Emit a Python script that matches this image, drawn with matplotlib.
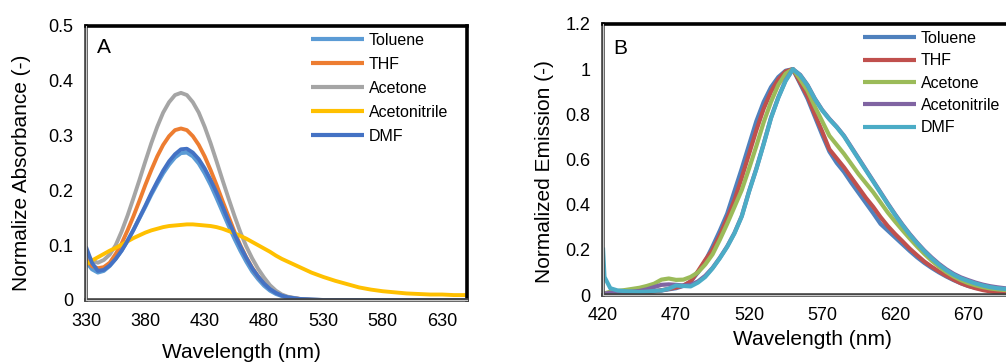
import matplotlib
matplotlib.use('Agg')
import matplotlib.pyplot as plt
from matplotlib.ticker import FormatStrFormatter

plt.rcParams['font.family'] = ['Liberation Sans', 'DejaVu Sans']

solvents = ['Toluene', 'THF', 'Acetone', 'Acetonitrile', 'DMF']

# ---- panel A : absorbance ----
wl_abs = [330, 335, 340, 345, 350, 355, 360, 365, 370, 375, 380, 385, 390, 395,
          400, 405, 410, 415, 420, 425, 430, 435, 440, 445, 450, 455, 460, 465,
          470, 475, 480, 485, 490, 495, 500, 510, 520, 530, 540, 550, 560, 570,
          580, 590, 600, 610, 620, 630, 640, 650]
abs_toluene = [0.070, 0.056, 0.050, 0.053, 0.062, 0.075, 0.090, 0.108, 0.128, 0.149,
               0.170, 0.192, 0.212, 0.231, 0.247, 0.260, 0.268, 0.269, 0.262, 0.249,
               0.231, 0.210, 0.186, 0.161, 0.136, 0.112, 0.090, 0.070, 0.052, 0.038,
               0.026, 0.017, 0.011, 0.007, 0.004, 0.001, 0, 0, 0, 0,
               0, 0, 0, 0, 0, 0, 0, 0, 0, 0]
abs_thf = [0.075, 0.062, 0.058, 0.060, 0.068, 0.084, 0.103, 0.127, 0.153, 0.181,
           0.210, 0.237, 0.262, 0.283, 0.299, 0.310, 0.313, 0.310, 0.299, 0.283,
           0.262, 0.237, 0.210, 0.181, 0.153, 0.125, 0.100, 0.078, 0.059, 0.043,
           0.031, 0.021, 0.014, 0.009, 0.005, 0.002, 0, 0, 0, 0,
           0, 0, 0, 0, 0, 0, 0, 0, 0, 0]
abs_acetone = [0.085, 0.072, 0.068, 0.073, 0.083, 0.100, 0.125, 0.154, 0.186, 0.219,
               0.253, 0.286, 0.316, 0.342, 0.361, 0.374, 0.378, 0.374, 0.361, 0.342,
               0.316, 0.286, 0.253, 0.219, 0.186, 0.154, 0.124, 0.098, 0.076, 0.057,
               0.041, 0.027, 0.017, 0.010, 0.006, 0.002, 0.001, 0, 0, 0,
               0, 0, 0, 0, 0, 0, 0, 0, 0, 0]
abs_acetonitrile = [0.065, 0.072, 0.078, 0.084, 0.090, 0.095, 0.101, 0.107, 0.113, 0.118,
                    0.123, 0.127, 0.130, 0.133, 0.135, 0.136, 0.137, 0.138, 0.138, 0.137,
                    0.136, 0.135, 0.133, 0.130, 0.126, 0.122, 0.117, 0.112, 0.106, 0.100,
                    0.094, 0.088, 0.081, 0.075, 0.070, 0.060, 0.050, 0.042, 0.035, 0.029,
                    0.023, 0.019, 0.016, 0.014, 0.012, 0.011, 0.010, 0.010, 0.009, 0.009]
abs_dmf = [0.097, 0.068, 0.053, 0.055, 0.063, 0.075, 0.090, 0.108, 0.128, 0.150,
           0.172, 0.195, 0.216, 0.236, 0.253, 0.266, 0.275, 0.276, 0.269, 0.257,
           0.240, 0.219, 0.196, 0.171, 0.145, 0.121, 0.098, 0.077, 0.058, 0.043,
           0.030, 0.020, 0.013, 0.008, 0.005, 0.002, 0.001, 0, 0, 0,
           0, 0, 0, 0, 0, 0, 0, 0, 0, 0]

# ---- panel B : emission ----
wl_em = [420, 421, 425, 430, 435, 440, 445, 450, 455, 460, 465, 470, 475, 480, 485,
         490, 495, 500, 505, 510, 515, 520, 525, 530, 535, 540, 545, 550, 555, 560,
         565, 570, 575, 580, 585, 590, 595, 600, 605, 610, 615, 620, 625, 630, 635,
         640, 645, 650, 655, 660, 665, 670, 675, 680, 685, 690, 695, 700]
em_toluene = [0.005, 0.006, 0.008, 0.010, 0.010, 0.011, 0.012, 0.014, 0.017, 0.020,
              0.025, 0.030, 0.040, 0.060, 0.100, 0.150, 0.215, 0.285, 0.360, 0.460,
              0.560, 0.665, 0.770, 0.855, 0.920, 0.965, 0.993, 1.000, 0.935, 0.870,
              0.790, 0.710, 0.635, 0.585, 0.545, 0.497, 0.452, 0.407, 0.362, 0.315,
              0.285, 0.255, 0.225, 0.195, 0.167, 0.142, 0.120, 0.100, 0.082, 0.066,
              0.052, 0.040, 0.032, 0.026, 0.021, 0.017, 0.014, 0.012]
em_thf = [0.002, 0.003, 0.004, 0.005, 0.006, 0.007, 0.009, 0.012, 0.016, 0.021,
          0.027, 0.033, 0.042, 0.060, 0.105, 0.155, 0.200, 0.265, 0.340, 0.420,
          0.520, 0.625, 0.730, 0.825, 0.900, 0.955, 0.990, 1.000, 0.940, 0.880,
          0.800, 0.725, 0.645, 0.605, 0.565, 0.520, 0.475, 0.430, 0.390, 0.345,
          0.305, 0.270, 0.238, 0.205, 0.176, 0.148, 0.125, 0.104, 0.085, 0.068,
          0.052, 0.040, 0.030, 0.022, 0.016, 0.011, 0.008, 0.006]
em_acetone = [0.005, 0.007, 0.015, 0.018, 0.022, 0.027, 0.032, 0.040, 0.050, 0.068,
              0.073, 0.067, 0.068, 0.080, 0.100, 0.135, 0.180, 0.245, 0.315, 0.390,
              0.465, 0.560, 0.660, 0.765, 0.855, 0.930, 0.980, 1.000, 0.955, 0.905,
              0.835, 0.770, 0.705, 0.665, 0.625, 0.580, 0.535, 0.495, 0.455, 0.410,
              0.365, 0.325, 0.287, 0.250, 0.215, 0.182, 0.152, 0.125, 0.102, 0.082,
              0.066, 0.053, 0.043, 0.035, 0.029, 0.025, 0.022, 0.020]
em_acetonitrile = [0.005, 0.006, 0.010, 0.012, 0.013, 0.015, 0.018, 0.025, 0.035, 0.045,
                   0.047, 0.045, 0.042, 0.045, 0.060, 0.085, 0.120, 0.165, 0.215, 0.275,
                   0.350, 0.460, 0.560, 0.670, 0.785, 0.875, 0.950, 1.000, 0.975, 0.930,
                   0.870, 0.820, 0.780, 0.745, 0.705, 0.655, 0.605, 0.555, 0.505, 0.455,
                   0.405, 0.357, 0.312, 0.270, 0.232, 0.197, 0.166, 0.138, 0.114, 0.094,
                   0.078, 0.066, 0.055, 0.046, 0.039, 0.034, 0.030, 0.027]
em_dmf = [0.210, 0.080, 0.030, 0.020, 0.017, 0.015, 0.013, 0.015, 0.018, 0.020,
          0.028, 0.042, 0.040, 0.038, 0.055, 0.080, 0.118, 0.163, 0.213, 0.273,
          0.348, 0.458, 0.558, 0.668, 0.783, 0.873, 0.948, 1.000, 0.973, 0.928,
          0.868, 0.818, 0.778, 0.743, 0.703, 0.652, 0.602, 0.552, 0.502, 0.452,
          0.402, 0.354, 0.309, 0.267, 0.229, 0.194, 0.162, 0.134, 0.110, 0.090,
          0.074, 0.062, 0.051, 0.042, 0.035, 0.030, 0.027, 0.024]

abs_data = [abs_toluene, abs_thf, abs_acetone, abs_acetonitrile, abs_dmf]
em_data = [em_toluene, em_thf, em_acetone, em_acetonitrile, em_dmf]
colors_a = ['#5B9BD5', '#ED7D31', '#A5A5A5', '#FFC000', '#4472C4']
colors_b = ['#4F81BD', '#C0504D', '#9BBB59', '#8064A2', '#4BACC6']

W, H = 1006, 363
fig = plt.figure(figsize=(W / 100, H / 100), dpi=100)


def px_axes(l, r, t, b):
    return fig.add_axes([l / W, 1 - b / H, (r - l) / W, (b - t) / H])


def style(ax):
    for s in ['top', 'right']:
        ax.spines[s].set_color('black')
        ax.spines[s].set_linewidth(2.6)
    for s in ['left', 'bottom']:
        ax.spines[s].set_color('#404040')
        ax.spines[s].set_linewidth(2.6)
    # inner light line -> double-line look of the excel axes
    ax.plot([0, 0], [0, 1], transform=ax.transAxes, color='#c8c8c8', lw=0.8,
            clip_on=False, zorder=5)
    ax.plot([0, 1], [0, 0], transform=ax.transAxes, color='#c8c8c8', lw=0.8,
            clip_on=False, zorder=5)
    ax.tick_params(length=0, labelsize=13, pad=9)
    ax.yaxis.set_major_formatter(FormatStrFormatter('%g'))


# panel A
ax1 = px_axes(86, 467, 26, 300)
for name, y, c in zip(solvents, abs_data, colors_a):
    ax1.plot(wl_abs, y, color=c, lw=2.8, label=name, solid_capstyle='butt')
ax1.set_xlim(330, 651)
ax1.set_ylim(0, 0.5)
ax1.set_xticks(range(330, 640, 50))
ax1.set_yticks([0, 0.1, 0.2, 0.3, 0.4, 0.5])
style(ax1)
ax1.set_xlabel('Wavelength (nm)', fontsize=15)
ax1.xaxis.set_label_coords(0.407, -0.19)
ax1.xaxis.label.set_va('center')
ax1.set_ylabel('Normalize Absorbance (-)', fontsize=15)
ax1.yaxis.set_label_coords(-0.169, 0.465)
ax1.yaxis.label.set_va('center')
ax1.text(0.029, 0.90, 'A', transform=ax1.transAxes, fontsize=15, va='baseline')
leg1 = ax1.legend(loc='upper left', bbox_to_anchor=(311 / W, 1 - 33 / H),
                  bbox_transform=fig.transFigure, frameon=False, fontsize=11.5,
                  handlelength=3.3, handletextpad=0.3, labelspacing=0.56,
                  borderpad=0, borderaxespad=0)
for h in leg1.get_lines():
    h.set_linewidth(3)

# panel B
ax2 = px_axes(603, 1012, 24, 295)
for name, y, c in zip(solvents, em_data, colors_b):
    ax2.plot(wl_em, y, color=c, lw=3, label=name, solid_capstyle='butt')
ax2.set_xlim(420, 700)
ax2.set_ylim(0, 1.2)
ax2.set_xticks(range(420, 680, 50))
ax2.set_yticks([0, 0.2, 0.4, 0.6, 0.8, 1.0, 1.2])
style(ax2)
ax2.set_xlabel('Wavelength (nm)', fontsize=15)
ax2.xaxis.set_label_coords(0.512, -0.166)
ax2.xaxis.label.set_va('center')
ax2.set_ylabel('Normalized Emission (-)', fontsize=15)
ax2.yaxis.set_label_coords(-0.143, 0.455)
ax2.yaxis.label.set_va('center')
ax2.text(0.026, 0.889, 'B', transform=ax2.transAxes, fontsize=15, va='baseline')
leg2 = ax2.legend(loc='upper left', bbox_to_anchor=(863 / W, 1 - 31 / H),
                  bbox_transform=fig.transFigure, frameon=False, fontsize=11.5,
                  handlelength=3.3, handletextpad=0.3, labelspacing=0.46,
                  borderpad=0, borderaxespad=0)
for h in leg2.get_lines():
    h.set_linewidth(3)

fig.savefig('out.png', dpi=100)
